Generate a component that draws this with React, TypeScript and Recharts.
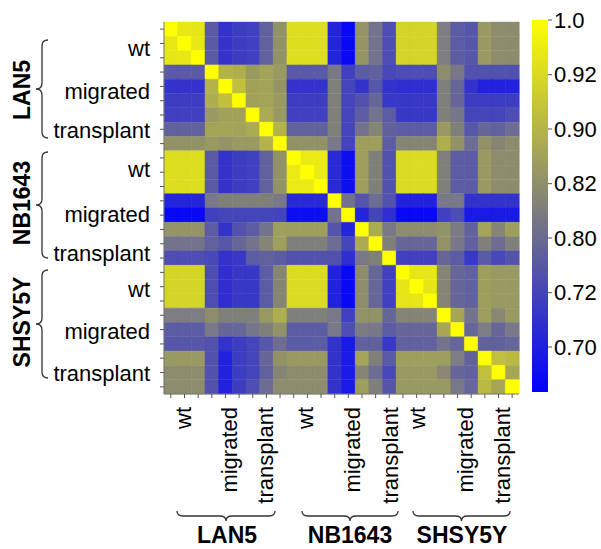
import { BarChart, Bar, Cell, XAxis, YAxis } from 'recharts'

const FONT = '"Liberation Sans", Arial, Helvetica, sans-serif'

// sample layout: cell line -> condition -> replicate count
const cellLines = ['LAN5', 'NB1643', 'SHSY5Y']
const conditions = ['wt', 'migrated', 'transplant']
const replicates = [
  [3, 3, 3],
  [3, 2, 3],
  [3, 3, 3],
]

// pairwise correlation, as position on the colour bar (0 = bottom/blue, 1 = top/yellow)
// lower triangle only, row i holds columns 0..i
const corrLower: number[][] = [
  [1],
  [0.91, 1],
  [0.90, 0.91, 1],
  [0.35, 0.35, 0.35, 1],
  [0.20, 0.20, 0.20, 0.70, 1],
  [0.24, 0.24, 0.24, 0.68, 0.75, 1],
  [0.25, 0.25, 0.25, 0.60, 0.63, 0.63, 1],
  [0.38, 0.38, 0.38, 0.64, 0.64, 0.64, 0.67, 1],
  [0.57, 0.57, 0.57, 0.60, 0.58, 0.60, 0.60, 0.70, 1],
  [0.87, 0.87, 0.87, 0.35, 0.20, 0.24, 0.25, 0.38, 0.57, 1],
  [0.87, 0.87, 0.87, 0.35, 0.20, 0.24, 0.25, 0.38, 0.57, 0.92, 1],
  [0.87, 0.87, 0.87, 0.35, 0.20, 0.24, 0.25, 0.38, 0.57, 0.92, 0.92, 1],
  [0.14, 0.14, 0.14, 0.47, 0.50, 0.50, 0.50, 0.50, 0.47, 0.16, 0.16, 0.16, 1],
  [0.03, 0.03, 0.03, 0.25, 0.27, 0.27, 0.27, 0.27, 0.26, 0.05, 0.05, 0.05, 0.45, 1],
  [0.58, 0.58, 0.58, 0.36, 0.20, 0.32, 0.36, 0.45, 0.62, 0.62, 0.62, 0.62, 0.33, 0.14, 1],
  [0.45, 0.45, 0.45, 0.38, 0.34, 0.40, 0.45, 0.52, 0.62, 0.50, 0.50, 0.50, 0.42, 0.27, 0.67, 1],
  [0.30, 0.30, 0.30, 0.28, 0.20, 0.22, 0.36, 0.38, 0.36, 0.32, 0.32, 0.32, 0.32, 0.18, 0.47, 0.50, 1],
  [0.83, 0.83, 0.83, 0.30, 0.18, 0.22, 0.22, 0.36, 0.52, 0.86, 0.86, 0.86, 0.13, 0.03, 0.55, 0.40, 0.25, 1],
  [0.83, 0.83, 0.83, 0.30, 0.18, 0.22, 0.22, 0.36, 0.52, 0.86, 0.86, 0.86, 0.13, 0.03, 0.55, 0.40, 0.25, 0.90, 1],
  [0.83, 0.83, 0.83, 0.30, 0.18, 0.22, 0.22, 0.36, 0.52, 0.86, 0.86, 0.86, 0.13, 0.03, 0.55, 0.40, 0.25, 0.90, 0.90, 1],
  [0.49, 0.49, 0.49, 0.55, 0.50, 0.50, 0.50, 0.60, 0.68, 0.50, 0.50, 0.50, 0.47, 0.25, 0.57, 0.57, 0.40, 0.52, 0.52, 0.52, 1],
  [0.36, 0.36, 0.36, 0.47, 0.40, 0.40, 0.46, 0.50, 0.57, 0.36, 0.36, 0.36, 0.47, 0.30, 0.48, 0.47, 0.36, 0.40, 0.40, 0.40, 0.65, 1],
  [0.34, 0.34, 0.34, 0.32, 0.20, 0.24, 0.27, 0.34, 0.42, 0.36, 0.36, 0.36, 0.20, 0.10, 0.38, 0.38, 0.22, 0.38, 0.38, 0.38, 0.45, 0.40, 1],
  [0.60, 0.60, 0.60, 0.32, 0.13, 0.24, 0.27, 0.40, 0.57, 0.60, 0.60, 0.60, 0.20, 0.10, 0.64, 0.50, 0.35, 0.62, 0.62, 0.62, 0.62, 0.49, 0.38, 1],
  [0.55, 0.55, 0.55, 0.32, 0.13, 0.24, 0.27, 0.38, 0.52, 0.55, 0.55, 0.55, 0.20, 0.10, 0.52, 0.42, 0.28, 0.60, 0.60, 0.60, 0.53, 0.40, 0.38, 0.75, 1],
  [0.55, 0.55, 0.55, 0.32, 0.13, 0.24, 0.30, 0.42, 0.55, 0.55, 0.55, 0.55, 0.20, 0.10, 0.62, 0.50, 0.33, 0.60, 0.60, 0.60, 0.60, 0.47, 0.40, 0.73, 0.65, 1],
]

// where condition labels sit, in row/column units
const rowLabelPos = [1.82, 4.89, 7.55, 10.34, 13.42, 16.2, 18.73, 21.66, 24.6]
const colLabelPos = [1.4, 4.8, 7.45, 10.35, 13.8, 16.6, 18.6, 22.1, 24.8]

// colour bar ticks (positions on the bar, and their printed labels)
const cbTickPos = [1, 0.853, 0.707, 0.56, 0.414, 0.267, 0.121]
const cbTickLabels = ['1.0', '0.92', '0.90', '0.82', '0.80', '0.72', '0.70']

const samples: string[] = []
cellLines.forEach((cl, g) =>
  conditions.forEach((cond, c) => {
    for (let r = 0; r < replicates[g][c]; r++) samples.push(`${cl} ${cond} ${r + 1}`)
  })
)
const N = samples.length
const labelTexts = cellLines.flatMap(() => conditions)

const corr = (i: number, j: number) => (i >= j ? corrLower[i][j] : corrLower[j][i])

function heat(t: number) {
  const c = Math.max(0, Math.min(1, t))
  let r, g, b
  if (c < 0.5) {
    const k = c / 0.5
    r = 128 * k; g = 128 * k; b = 255 - 127 * k
  } else {
    const k = (c - 0.5) / 0.5
    r = 128 + 127 * k; g = 128 + 127 * k; b = 122 - 122 * k
  }
  return `rgb(${Math.round(r)},${Math.round(g)},${Math.round(b)})`
}

// one entry per column, each row stacked as a unit segment
const data = samples.map((_, j) => {
  const d: Record<string, number> = { col: j }
  samples.forEach((__, i) => { d[`r${i}`] = 1 })
  return d
})

const PLOT_LEFT = 164
const PLOT_TOP = 22
const PLOT_W = 355
const PLOT_H = 372
const cellW = PLOT_W / N
const cellH = PLOT_H / N

function XTick({ x, y, payload }: any) {
  const j = payload.value
  const k = colLabelPos.findIndex(p => Math.floor(p) === j)
  if (k < 0) return null
  const lx = x + (colLabelPos[k] - j - 0.5) * cellW
  return (
    <text x={lx} y={y} transform={`rotate(-90 ${lx} ${y})`} textAnchor="end"
      dominantBaseline="central" fill="#000" fontSize={22} fontFamily={FONT}>
      {labelTexts[k]}
    </text>
  )
}

function YTick({ x, y, payload }: any) {
  const v = payload.value
  const row = Math.floor(v)
  const k = rowLabelPos.findIndex(p => Math.floor(p) === row)
  if (k < 0) return null
  const ly = y + (rowLabelPos[k] - v) * cellH
  return (
    <text x={x} y={ly} textAnchor="end" dominantBaseline="central"
      fill="#000" fontSize={22} fontFamily={FONT}>
      {labelTexts[k]}
    </text>
  )
}

// brace paths for the group annotations
function vBrace(x: number, y1: number, y2: number) {
  const ym = (y1 + y2) / 2
  const w = 6, r = 6
  return `M${x + w},${y1} Q${x},${y1} ${x},${y1 + r} L${x},${ym - r} Q${x},${ym} ${x - w},${ym} ` +
    `Q${x},${ym} ${x},${ym + r} L${x},${y2 - r} Q${x},${y2} ${x + w},${y2}`
}
function hBrace(y: number, x1: number, x2: number) {
  const xm = (x1 + x2) / 2
  const h = 5, r = 6
  return `M${x1},${y - h} Q${x1},${y} ${x1 + r},${y} L${xm - r},${y} Q${xm},${y} ${xm},${y + h} ` +
    `Q${xm},${y} ${xm + r},${y} L${x2 - r},${y} Q${x2},${y} ${x2},${y - h}`
}

const leftBraces = [[40, 138], [152, 258], [270, 378]]
const leftGroupY = [90, 203, 322]
const bottomBraces = [[177, 275], [302, 398], [413, 510]]
const bottomGroupX = [227, 350, 462]

export default function App() {
  const rowTicks = samples.map((_, i) => i + 0.5)
  return (
    <div style={{ position: 'absolute', left: 0, top: 0, width: 601, height: 549, background: '#fff', fontFamily: FONT }}>
      <div style={{ position: 'absolute', left: 0, top: 0 }}>
        <BarChart width={601} height={549} data={data} barCategoryGap={0} barGap={0}
          margin={{ top: PLOT_TOP, right: 601 - PLOT_LEFT - PLOT_W, bottom: 45, left: 0 }}>
          <XAxis dataKey="col" type="category" interval={0} height={549 - 45 - PLOT_TOP - PLOT_H}
            tick={<XTick />} tickSize={4} tickMargin={9}
            axisLine={{ stroke: '#777' }} tickLine={{ stroke: '#555' }} />
          <YAxis type="number" domain={[0, N]} reversed ticks={rowTicks} interval={0}
            width={PLOT_LEFT} tick={<YTick />} tickSize={4} tickMargin={10}
            axisLine={{ stroke: '#777' }} tickLine={{ stroke: '#555' }} />
          {samples.map((_, i) => (
            <Bar key={i} dataKey={`r${i}`} stackId="m" isAnimationActive={false}>
              {samples.map((__, j) => {
                const f = heat(corr(i, j))
                return <Cell key={j} fill={f} stroke={f} strokeWidth={0.4} />
              })}
            </Bar>
          ))}
        </BarChart>
      </div>
      <div style={{ position: 'absolute', left: 532, top: 0 }}>
        <BarChart width={69} height={549} data={[{ name: 'scale', v: 1 }]} barCategoryGap={0}
          margin={{ top: 20, right: 0, bottom: 157, left: 0 }}>
          <defs>
            <linearGradient id="cbGrad" x1="0" y1="0" x2="0" y2="1">
              <stop offset="0%" stopColor={heat(1)} />
              <stop offset="50%" stopColor={heat(0.5)} />
              <stop offset="100%" stopColor={heat(0)} />
            </linearGradient>
          </defs>
          <XAxis dataKey="name" hide />
          <YAxis orientation="right" type="number" domain={[0, 1]} ticks={cbTickPos} interval={0}
            width={53} axisLine={false} tickSize={4} tickMargin={2} tickLine={{ stroke: '#555' }}
            tickFormatter={(v: number) => cbTickLabels[cbTickPos.indexOf(v)]}
            tick={{ fill: '#000', fontSize: 22, fontFamily: FONT }} />
          <Bar dataKey="v" fill="url(#cbGrad)" isAnimationActive={false} />
        </BarChart>
      </div>
      <svg width={601} height={549} style={{ position: 'absolute', left: 0, top: 0, pointerEvents: 'none' }}>
        {leftBraces.map(([a, b], g) => (
          <path key={`lb${g}`} d={vBrace(42, a, b)} fill="none" stroke="#333" strokeWidth={1.3} />
        ))}
        {cellLines.map((cl, g) => (
          <text key={`lt${g}`} x={22} y={leftGroupY[g]} transform={`rotate(-90 22 ${leftGroupY[g]})`}
            textAnchor="middle" dominantBaseline="central" fontSize={23} fontWeight="bold"
            fontFamily={FONT} fill="#000">{cl}</text>
        ))}
        {bottomBraces.map(([a, b], g) => (
          <path key={`bb${g}`} d={hBrace(516, a, b)} fill="none" stroke="#333" strokeWidth={1.3} />
        ))}
        {cellLines.map((cl, g) => (
          <text key={`bt${g}`} x={bottomGroupX[g]} y={535} textAnchor="middle" dominantBaseline="central"
            fontSize={23} fontWeight="bold" fontFamily={FONT} fill="#000">{cl}</text>
        ))}
      </svg>
    </div>
  )
}
